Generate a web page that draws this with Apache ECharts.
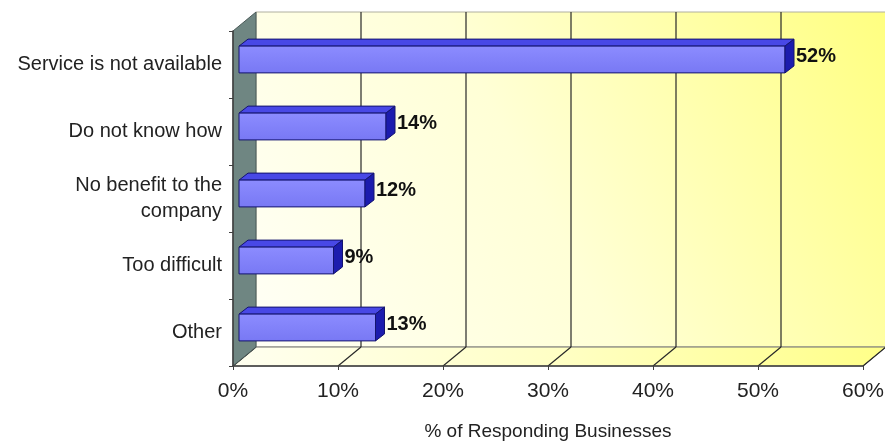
<!DOCTYPE html>
<html><head><meta charset="utf-8">
<script src="https://cdn.jsdelivr.net/npm/echarts@6/dist/echarts.min.js"></script>
<style>html,body{margin:0;padding:0;background:#fff}#c{width:885px;height:443px}</style>
</head><body><div id="c"></div>
<script>
const categories = ['Service is not available', 'Do not know how', 'No benefit to the\ncompany', 'Too difficult', 'Other'];
const values = [52, 14, 12, 9, 13];
const xTicks = [0, 10, 20, 30, 40, 50, 60];
const axisName = '% of Responding Businesses';

const DX = 23, DY = -19;      // wall depth offset
const BFX = 6, BFY = -5;      // bar front plane offset
const BDX = 9, BDY = -7;      // bar depth
const FONT = '"Liberation Sans", Arial, sans-serif';

const chart = echarts.init(document.getElementById('c'));

function frameRender(params, api) {
  const cs = params.coordSys;
  const x = cs.x, y = cs.y, w = cs.width, h = cs.height;
  const children = [];
  children.push({
    type: 'rect', shape: { x: x + DX, y: y + DY, width: w, height: h },
    style: {
      fill: new echarts.graphic.LinearGradient(0, 1, 1, 0, [
        { offset: 0, color: '#fffff6' }, { offset: 0.45, color: '#ffffd6' }, { offset: 1, color: '#ffff80' }
      ]), stroke: '#b0b0a0', lineWidth: 1
    }
  });
  children.push({
    type: 'polygon', shape: { points: [[x, y + h], [x + DX, y + h + DY], [x + w + DX, y + h + DY], [x + w, y + h]] },
    style: {
      fill: new echarts.graphic.LinearGradient(0, 0, 1, 0, [
        { offset: 0, color: '#fffff0' }, { offset: 0.5, color: '#ffffc4' }, { offset: 1, color: '#ffff88' }
      ]), stroke: '#707070', lineWidth: 1
    }
  });
  xTicks.forEach(function (v) {
    const px = api.coord([v, 0])[0];
    if (v > 0 && v < 60) {
      children.push({ type: 'line', shape: { x1: px + DX, y1: y + DY, x2: px + DX, y2: y + h + DY }, style: { stroke: '#282828', lineWidth: 1.2 } });
    }
    children.push({ type: 'line', shape: { x1: px, y1: y + h, x2: px + DX, y2: y + h + DY }, style: { stroke: '#282828', lineWidth: 1.2 } });
  });
  children.push({
    type: 'polygon', shape: { points: [[x, y], [x + DX, y + DY], [x + DX, y + h + DY], [x, y + h]] },
    style: { fill: '#6f8682', stroke: '#4a5a58', lineWidth: 1 }
  });
  return { type: 'group', children: children };
}

function barRender(params, api) {
  const v = api.value(0), i = api.value(1);
  const p0 = api.coord([0, i]), p1 = api.coord([v, i]);
  const bh = api.size([0, 1])[1] * 0.4;
  const xa = p0[0] + BFX, xb = p1[0] + BFX;
  const yt = p0[1] + BFY - bh / 2, yb = p0[1] + BFY + bh / 2;
  const st = '#14146e';
  return {
    type: 'group', children: [
      { type: 'polygon', shape: { points: [[xa, yt], [xb, yt], [xb + BDX, yt + BDY], [xa + BDX, yt + BDY]] }, style: { fill: '#4848e6', stroke: st, lineWidth: 1 } },
      { type: 'rect', shape: { x: xa, y: yt, width: xb - xa, height: yb - yt }, style: { fill: new echarts.graphic.LinearGradient(0, 0, 0, 1, [{ offset: 0, color: '#8c8cff' }, { offset: 1, color: '#7878f4' }]), stroke: st, lineWidth: 1 } },
      { type: 'polygon', shape: { points: [[xb, yt], [xb + BDX, yt + BDY], [xb + BDX, yb + BDY], [xb, yb]] }, style: { fill: '#1c1cae', stroke: st, lineWidth: 1 } },
      { type: 'text', x: xb + BDX + 2, y: (yt + yb) / 2 + BDY / 2, style: { text: v + '%', fill: '#111', font: 'bold 20px ' + FONT, verticalAlign: 'middle', align: 'left' } }
    ]
  };
}

chart.setOption({
  animation: false,
  backgroundColor: '#ffffff',
  grid: { left: 233, right: 22, top: 31, bottom: 77, containLabel: false, outerBoundsMode: 'none' },
  xAxis: {
    type: 'value', min: 0, max: 60, interval: 10, z: 10,
    name: axisName, nameLocation: 'middle', nameGap: 56,
    nameTextStyle: { fontFamily: FONT, fontSize: 19, color: '#222' },
    axisLine: { show: true, lineStyle: { color: '#404040', width: 1.5 } },
    axisTick: { show: true, length: 4, lineStyle: { color: '#404040' } },
    splitLine: { show: false },
    axisLabel: { formatter: '{value}%', fontFamily: FONT, fontSize: 21, color: '#222', margin: 15 }
  },
  yAxis: {
    type: 'category', data: categories, inverse: true, z: 10,
    axisLine: { show: true, lineStyle: { color: '#404040', width: 1.5 } },
    axisTick: { show: true, length: 4, lineStyle: { color: '#404040' } },
    axisLabel: { fontFamily: FONT, fontSize: 20, color: '#222', margin: 11, lineHeight: 26, align: 'right' }
  },
  series: [
    { type: 'custom', z: 1, silent: true, clip: false, renderItem: frameRender, data: [[0, 0]] },
    { type: 'custom', z: 3, clip: false, renderItem: barRender, data: values.map(function (v, i) { return [v, i]; }) }
  ]
});
</script></body></html>
